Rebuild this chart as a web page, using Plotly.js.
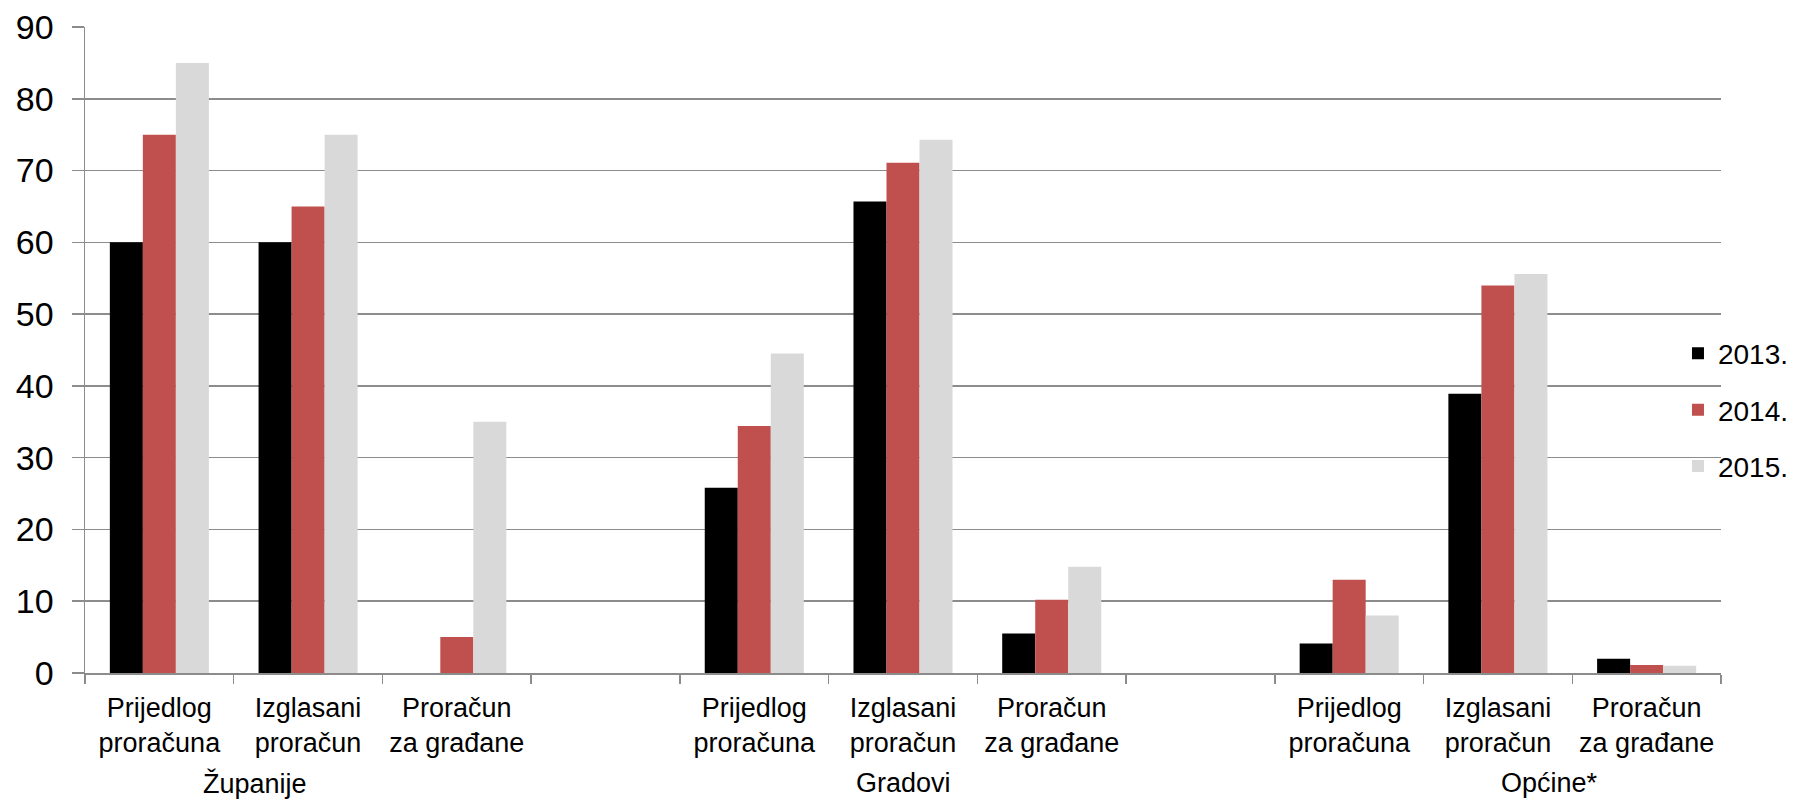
<!DOCTYPE html>
<html>
<head>
<meta charset="utf-8">
<script src="https://cdn.plot.ly/plotly-3.0.1.min.js"></script>
<style>html,body{margin:0;padding:0;background:#fff;}#chart{width:1796px;height:800px;}</style>
</head>
<body>
<div id="chart"></div>
<script>
// ---- data ----
const groups = ['Županije', 'Gradovi', 'Općine*'];
const subcats = ['Prijedlog proračuna', 'Izglasani proračun', 'Proračun za građane'];
const subcatLabels = ['Prijedlog<br>proračuna', 'Izglasani<br>proračun', 'Proračun<br>za građane'];
const years = ['2013.', '2014.', '2015.'];
const v2013 = [60, 60, 0, 25.8, 65.7, 5.5, 4.1, 38.9, 2];
const v2014 = [75, 65, 5, 34.4, 71.1, 10.2, 13, 54, 1.1];
const v2015 = [85, 75, 35, 44.5, 74.3, 14.8, 8, 55.6, 1];
const colors = ['#000000', '#C0504D', '#D9D9D9'];

// ---- build category keys (with an empty slot between groups) ----
const xKeys = [];
const allKeys = [];
const allText = [];
groups.forEach((g, gi) => {
  subcats.forEach((s, si) => {
    const k = g + '|' + s;
    xKeys.push(k);
    allKeys.push(k);
    allText.push(subcatLabels[si]);
  });
  if (gi < groups.length - 1) {
    allKeys.push('_gap' + gi);
    allText.push('');
  }
});

const series = [v2013, v2014, v2015];
const traces = series.map((vals, i) => ({
  type: 'bar',
  name: years[i],
  x: xKeys,
  y: vals,
  marker: {color: colors[i], line: {width: 0}},
  legendgroup: 'g' + i,
  hoverinfo: 'y'
}));

const FONT = 'Liberation Sans, Arial, sans-serif';
const gridCol = '#8C8C8C';

// group label positions (category index units)
const groupLabelX = [0.64, 5.0, 9.35];

const layout = {
  width: 1796,
  height: 800,
  margin: {l: 85, r: 75, t: 27, b: 127, autoexpand: false},
  paper_bgcolor: '#ffffff',
  plot_bgcolor: '#ffffff',
  barmode: 'group',
  bargap: 0.334,
  bargroupgap: 0,
  showlegend: true,
  font: {family: FONT, color: '#000000'},
  legend: {
    x: 0.9737, xanchor: 'left',
    y: 0.407, yanchor: 'middle',
    bgcolor: 'rgba(0,0,0,0)',
    font: {family: FONT, size: 28, color: '#000'},
    traceorder: 'grouped',
    tracegroupgap: 17,
    itemwidth: 30
  },
  xaxis: {
    type: 'category',
    categoryorder: 'array',
    categoryarray: allKeys,
    tickmode: 'array',
    tickvals: allKeys,
    ticktext: allText,
    tickson: 'boundaries',
    ticks: 'outside',
    ticklen: 9,
    tickwidth: 1.5,
    tickcolor: gridCol,
    showline: true,
    linecolor: gridCol,
    linewidth: 1.5,
    showgrid: false,
    zeroline: false,
    range: [-0.5, allKeys.length - 0.5],
    tickfont: {family: FONT, size: 27, color: '#000'},
    ticklabelstandoff: 10,
    fixedrange: true
  },
  yaxis: {
    range: [0, 90],
    dtick: 10,
    tick0: 0,
    ticks: 'outside',
    ticklen: 12,
    tickwidth: 1.5,
    tickcolor: gridCol,
    showline: true,
    linecolor: gridCol,
    linewidth: 1.5,
    showgrid: true,
    gridcolor: gridCol,
    gridwidth: 1.5,
    zeroline: false,
    tickfont: {family: FONT, size: 34, color: '#000'},
    ticklabelstandoff: 11,
    fixedrange: true
  },
  annotations: groups.map((g, i) => ({
    text: g,
    xref: 'x', yref: 'paper',
    x: groupLabelX[i], y: -0.144,
    xanchor: 'center', yanchor: 'top',
    showarrow: false,
    font: {family: FONT, size: 27, color: '#000'}
  }))
};

Plotly.newPlot('chart', traces, layout, {displayModeBar: false, staticPlot: true});
</script>
</body>
</html>
